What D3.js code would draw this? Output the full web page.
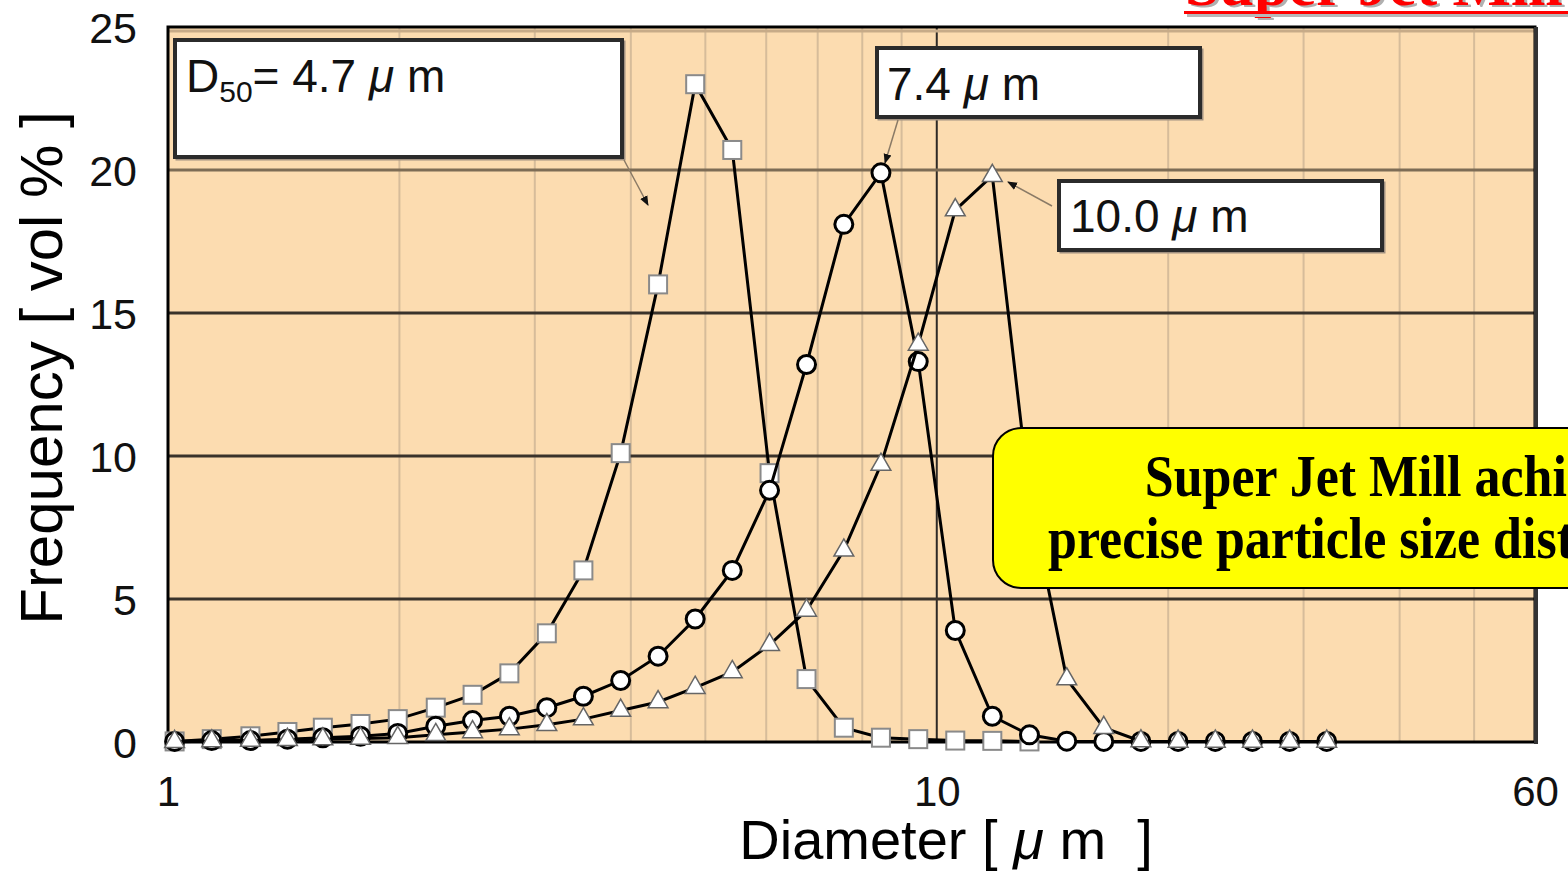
<!DOCTYPE html>
<html><head><meta charset="utf-8">
<script src="https://cdn.jsdelivr.net/npm/d3@7"></script>
<style>
html,body{margin:0;padding:0;background:#fff;overflow:hidden;}
svg{display:block;}
text{white-space:pre;}
</style></head>
<body>
<svg id="c" width="1568" height="872"></svg>
<script>
// ---- data ----
const diameters = [1.02, 1.14, 1.28, 1.43, 1.59, 1.78, 1.99, 2.23, 2.49, 2.78, 3.11, 3.47, 3.88, 4.34, 4.85, 5.42,
  6.06, 6.77, 7.57, 8.46, 9.46, 10.57, 11.81, 13.20, 14.76, 16.49, 18.43, 20.60, 23.03, 25.74, 28.77, 32.15];
const sqValues  = [0.02, 0.1, 0.2, 0.35, 0.5, 0.63, 0.8, 1.2, 1.65, 2.4, 3.8, 6.0, 10.1, 16.0, 23.0, 20.7,
  9.4, 2.2, 0.5, 0.15, 0.1, 0.05, 0.04, 0.02];
const ciValues  = [0.02, 0.05, 0.05, 0.1, 0.15, 0.2, 0.3, 0.55, 0.75, 0.9, 1.2, 1.6, 2.15, 3.0, 4.3, 6.0,
  8.8, 13.2, 18.1, 19.9, 13.3, 3.9, 0.9, 0.25, 0.03, 0.02, 0.02, 0.02, 0.02, 0.02, 0.02, 0.02];
const trValues  = [0.01, 0.03, 0.05, 0.08, 0.1, 0.12, 0.15, 0.25, 0.35, 0.45, 0.6, 0.8, 1.1, 1.4, 1.9, 2.45,
  3.4, 4.6, 6.7, 9.7, 13.9, 18.6, 19.8, 8.6, 2.2, 0.5, 0.03, 0.02, 0.02, 0.02, 0.02, 0.02];
const yTicks = [0, 5, 10, 15, 20, 25];
const xTickLabels = [1, 10, 60];
const xMinorGrid = [2, 3, 4, 5, 6, 7, 8, 9, 20, 30, 40, 50];
const xMajorGrid = [10];
const yGrid = [5, 10, 15, 20];

const svg = d3.select("#c");
const x = d3.scaleLog().domain([1, 60]).range([168, 1535]);
const y = d3.scaleLinear().domain([0, 25]).range([742, 27]);
const SANS = "'Liberation Sans', Arial, sans-serif";
const SERIF = "'Liberation Serif', 'Times New Roman', serif";

// defs
const defs = svg.append("defs");
defs.append("marker").attr("id", "ah").attr("viewBox", "0 0 10 10").attr("refX", 9).attr("refY", 5)
  .attr("markerWidth", 10).attr("markerHeight", 10).attr("markerUnits", "userSpaceOnUse").attr("orient", "auto")
  .append("path").attr("d", "M0,1 L10,5 L0,9 Z").attr("fill", "#111");
defs.append("clipPath").attr("id", "plotclip").append("rect")
  .attr("x", 168).attr("y", 27).attr("width", 1367).attr("height", 715);

// top red title (clipped by the page edge, as in the reference)
svg.append("text").attr("x", 1188).attr("y", 7).attr("font-family", SERIF).attr("font-weight", "bold")
  .attr("font-size", 62).attr("fill", "#b0b0b0").text("Super Jet Mill");
svg.append("text").attr("x", 1185).attr("y", 5).attr("font-family", SERIF).attr("font-weight", "bold")
  .attr("font-size", 62).attr("fill", "#ff0000").text("Super Jet Mill");
svg.append("line").attr("x1", 1187).attr("x2", 1568).attr("y1", 15.5).attr("y2", 15.5).attr("stroke", "#b8b8b8").attr("stroke-width", 3);
svg.append("line").attr("x1", 1184).attr("x2", 1568).attr("y1", 12.5).attr("y2", 12.5).attr("stroke", "#ff0000").attr("stroke-width", 3);

// plot background
svg.append("rect").attr("x", 168).attr("y", 27).attr("width", 1367).attr("height", 715).attr("fill", "#fcdcb0");

// grid
const g = svg.append("g").attr("clip-path", "url(#plotclip)");
g.selectAll(".vmin").data(xMinorGrid).join("line")
  .attr("x1", d => x(d)).attr("x2", d => x(d)).attr("y1", 27).attr("y2", 742)
  .attr("stroke", "#d6bc9a").attr("stroke-width", 2);
g.selectAll(".vmaj").data(xMajorGrid).join("line")
  .attr("x1", d => x(d)).attr("x2", d => x(d)).attr("y1", 27).attr("y2", 742)
  .attr("stroke", "#2e2a26").attr("stroke-width", 2);
g.selectAll(".hg").data(yGrid).join("line")
  .attr("x1", 168).attr("x2", 1535).attr("y1", d => y(d)).attr("y2", d => y(d))
  .attr("stroke", d => d === 20 ? "#7d6c55" : "#3a332b").attr("stroke-width", 3);
g.append("line").attr("x1", 168).attr("x2", 1535).attr("y1", 31).attr("y2", 31).attr("stroke", "#c7ab88").attr("stroke-width", 3);

// axes frame
svg.append("rect").attr("x", 168).attr("y", 27).attr("width", 1367).attr("height", 715)
  .attr("fill", "none").attr("stroke", "#000").attr("stroke-width", 3);
svg.append("line").attr("x1", 1536).attr("x2", 1536).attr("y1", 27).attr("y2", 744).attr("stroke", "#333").attr("stroke-width", 4);

// axis tick labels through d3 axes
const yAxis = svg.append("g").attr("transform", "translate(168,0)")
  .call(d3.axisLeft(y).tickValues(yTicks).tickSize(0).tickPadding(31).tickFormat(d3.format("d")));
yAxis.select(".domain").remove();
yAxis.selectAll("text").attr("font-family", SANS).attr("font-size", 43).attr("fill", "#111").attr("dy", "0.36em");

const xAxis = svg.append("g").attr("transform", "translate(0,742)")
  .call(d3.axisBottom(x).tickValues(xTickLabels).tickSize(0).tickPadding(34).tickFormat(d3.format("d")));
xAxis.select(".domain").remove();
xAxis.selectAll("text").attr("font-family", SANS).attr("font-size", 42).attr("fill", "#111").attr("dy", "0.71em");

// axis titles
svg.append("text").attr("x", 946).attr("y", 859).attr("text-anchor", "middle")
  .attr("font-family", SANS).attr("font-size", 56).attr("fill", "#000")
  .html('Diameter [ <tspan font-style="italic">μ</tspan> m  ]');
svg.append("text").attr("transform", "translate(62,368) rotate(-90)").attr("text-anchor", "middle")
  .attr("font-family", SANS).attr("font-size", 60).attr("fill", "#000").text("Frequency [ vol % ]");

// series
const line = d3.line().x(d => x(d[0])).y(d => y(d[1]));
const sqData = sqValues.map((v, i) => [diameters[i], v]);
const ciData = ciValues.map((v, i) => [diameters[i], v]);
const trData = trValues.map((v, i) => [diameters[i], v]);

const s = svg.append("g");
// squares
s.append("path").datum(sqData).attr("d", line).attr("fill", "none").attr("stroke", "#000").attr("stroke-width", 3);
s.selectAll(".sq").data(sqData).join("rect")
  .attr("x", d => x(d[0]) - 9).attr("y", d => y(d[1]) - 9).attr("width", 18).attr("height", 18)
  .attr("fill", "#fff").attr("stroke", "#8a8a8a").attr("stroke-width", 2);
// circles
s.append("path").datum(ciData).attr("d", line).attr("fill", "none").attr("stroke", "#000").attr("stroke-width", 3);
s.selectAll(".ci").data(ciData).join("circle")
  .attr("cx", d => x(d[0])).attr("cy", d => y(d[1])).attr("r", 9)
  .attr("fill", "#fff").attr("stroke", "#000").attr("stroke-width", 3);
// triangles
s.append("path").datum(trData).attr("d", line).attr("fill", "none").attr("stroke", "#000").attr("stroke-width", 3);
const tri = d3.symbol().type(d3.symbolTriangle).size(170);
s.selectAll(".tr").data(trData).join("path")
  .attr("transform", d => `translate(${x(d[0])},${y(d[1])})`).attr("d", tri)
  .attr("fill", "#fff").attr("stroke", "#666").attr("stroke-width", 1.5);

// annotation boxes
function box(x0, y0, w, h) {
  svg.append("rect").attr("x", x0 + 2).attr("y", y0 + 2).attr("width", w).attr("height", h)
    .attr("fill", "none").attr("stroke", "#a09080").attr("stroke-width", 3);
  svg.append("rect").attr("x", x0).attr("y", y0).attr("width", w).attr("height", h)
    .attr("fill", "#fff").attr("stroke", "#2b2b2b").attr("stroke-width", 4);
}
box(175, 40, 447, 117);
box(877, 48, 323, 69);
box(1059, 181, 323, 69);

svg.append("text").attr("x", 186).attr("y", 92).attr("font-family", SANS).attr("font-size", 46).attr("fill", "#111")
  .html('D<tspan font-size="30" dy="10">50</tspan><tspan dy="-10">= 4.7 </tspan><tspan font-style="italic">μ</tspan> m');
svg.append("text").attr("x", 887).attr("y", 100).attr("font-family", SANS).attr("font-size", 46).attr("fill", "#111")
  .html('7.4 <tspan font-style="italic">μ</tspan> m');
svg.append("text").attr("x", 1070).attr("y", 232).attr("font-family", SANS).attr("font-size", 46).attr("fill", "#111")
  .html('10.0 <tspan font-style="italic">μ</tspan> m');

// arrows
function arrow(x1, y1, x2, y2) {
  svg.append("line").attr("x1", x1).attr("y1", y1).attr("x2", x2).attr("y2", y2)
    .attr("stroke", "#8a7a66").attr("stroke-width", 1.5).attr("marker-end", "url(#ah)");
}
arrow(624, 160, 648, 205);
arrow(898, 120, 885, 163);
arrow(1052, 206, 1008, 182);

// yellow callout (extends past the page edge, as in the reference)
svg.append("rect").attr("x", 993).attr("y", 428).attr("width", 820).attr("height", 160).attr("rx", 28)
  .attr("fill", "#ffff00").attr("stroke", "#000").attr("stroke-width", 2);
svg.append("text").attr("x", 1402).attr("y", 0).attr("transform", "translate(0,496) scale(1,1.15)")
  .attr("text-anchor", "middle").attr("font-family", SERIF).attr("font-weight", "bold").attr("font-size", 52)
  .attr("fill", "#000").text("Super Jet Mill achieves");
svg.append("text").attr("x", 1402).attr("y", 0).attr("transform", "translate(0,558) scale(1,1.15)")
  .attr("text-anchor", "middle").attr("font-family", SERIF).attr("font-weight", "bold").attr("font-size", 52)
  .attr("fill", "#000").text("precise particle size distribution");
</script>
</body></html>
